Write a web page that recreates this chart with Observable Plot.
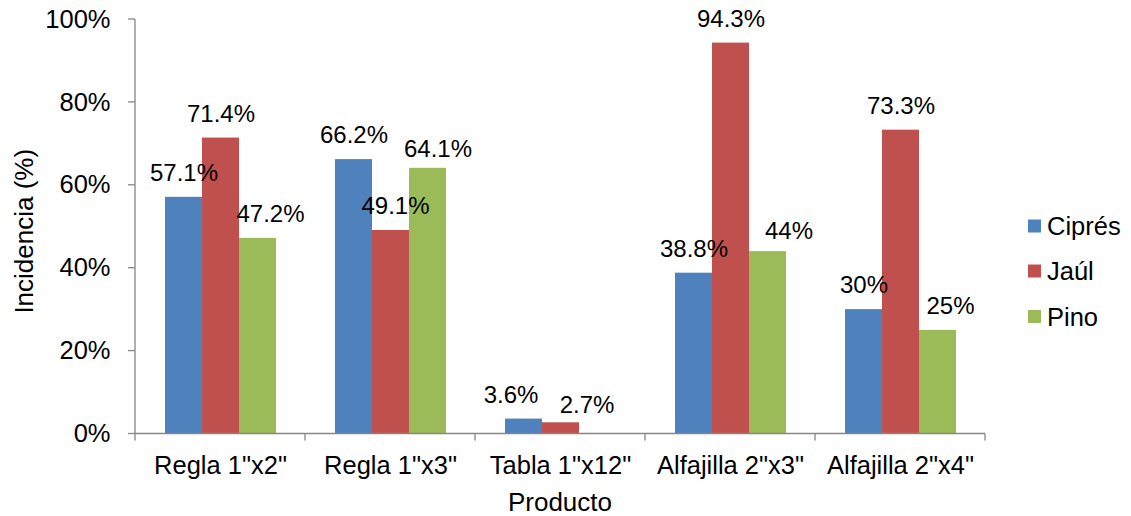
<!DOCTYPE html>
<html>
<head>
<meta charset="utf-8">
<script src="https://cdn.jsdelivr.net/npm/d3@7"></script>
<script src="https://cdn.jsdelivr.net/npm/@observablehq/plot@0.6"></script>
<style>
  html, body { margin: 0; padding: 0; background: #fff; }
  #chart { width: 1131px; height: 516px; }
</style>
</head>
<body>
<div id="chart"></div>
<script>
// ---- data ----
const categories = ['Regla 1"x2"', 'Regla 1"x3"', 'Tabla 1"x12"', 'Alfajilla 2"x3"', 'Alfajilla 2"x4"'];
const series = ["Ciprés", "Jaúl", "Pino"];
const cipres = [0.571, 0.662, 0.036, 0.388, 0.30];
const jaul   = [0.714, 0.491, 0.027, 0.943, 0.733];
const pino   = [0.472, 0.641, null, 0.44, 0.25];
const yTicks = [0, 0.2, 0.4, 0.6, 0.8, 1.0];
const colors = ["#4F81BD", "#C0504D", "#9BBB59"];

const seriesValues = [cipres, jaul, pino];
const rows = [];
categories.forEach((c, i) => {
  series.forEach((s, k) => {
    const v = seriesValues[k][i];
    if (v != null) rows.push({cat: c, series: s, value: v});
  });
});

// label placement nudges (pixels), as in the original chart
const nudges = {
  'Regla 1"x2"|Pino': [12.5, 0],
  'Regla 1"x3"|Jaúl': [4.5, 0],
  'Regla 1"x3"|Pino': [10, 5],
  'Tabla 1"x12"|Ciprés': [-13, 0],
  'Tabla 1"x12"|Jaúl': [26, 7],
  'Alfajilla 2"x3"|Pino': [21, 4],
  'Alfajilla 2"x4"|Pino': [12.5, 0]
};
const nudgeOf = r => nudges[r.cat + "|" + r.series] || [0, 0];
const fmtPct = v => `${+(v * 100).toFixed(1)}%`;

const FONT = "'Liberation Sans', Arial, Helvetica, sans-serif";

const groups = d3.group(rows, r => nudgeOf(r).join(","));
const labelMarks = [...groups].map(([key, g]) => {
  const [nx, ny] = key.split(",").map(Number);
  return Plot.text(g, {
    fx: "cat", x: "series", y: "value",
    text: d => fmtPct(d.value),
    dx: nx, dy: -24 + ny,
    fontSize: 24, fill: "#000"
  });
});

const W = 1131, H = 516, ML = 135, MR = 146, MT = 19, MB = 82.5;

const plot = Plot.plot({
  width: W, height: H,
  marginLeft: ML, marginRight: MR, marginTop: MT, marginBottom: MB,
  style: {fontFamily: FONT, fontSize: "25.5px", color: "#000", background: "#fff", overflow: "visible"},
  fx: {domain: categories, padding: 0, label: null, tickSize: 0, tickPadding: 22, axis: "bottom"},
  x: {domain: series, paddingInner: 0, paddingOuter: 0.756, axis: null},
  y: {domain: [0, 1], ticks: yTicks, tickFormat: d3.format(".0%"), tickSize: 0, tickPadding: 25, label: null},
  color: {domain: series, range: colors},
  marks: [
    Plot.barY(rows, {fx: "cat", x: "series", y: "value", fill: "series"}),
    ...labelMarks
  ]
});

document.getElementById("chart").appendChild(plot);

// ---- axis lines, boundary ticks, titles and legend ----
const svg = d3.select(plot);
const ys = plot.scale("y");
const y0 = ys.apply(0), y1 = ys.apply(1);
let bounds;
try {
  const fxs = plot.scale("fx");
  bounds = categories.map(c => fxs.apply(c));
  bounds.push(fxs.apply(categories[categories.length - 1]) + fxs.bandwidth);
} catch (e) {
  const step = (W - ML - MR) / categories.length;
  bounds = d3.range(categories.length + 1).map(i => ML + i * step);
}
const x0 = bounds[0], xEnd = bounds[bounds.length - 1];
const axisColor = "#868686";
const g = svg.append("g").attr("stroke", axisColor).attr("stroke-width", 1.3).attr("fill", "none");
g.append("line").attr("x1", x0).attr("x2", x0).attr("y1", y1).attr("y2", y0);
g.append("line").attr("x1", x0).attr("x2", xEnd).attr("y1", y0).attr("y2", y0);
yTicks.forEach(t => {
  const y = ys.apply(t);
  g.append("line").attr("x1", x0 - 7).attr("x2", x0).attr("y1", y).attr("y2", y);
});
bounds.forEach(b => {
  g.append("line").attr("x1", b).attr("x2", b).attr("y1", y0).attr("y2", y0 + 7);
});

svg.append("text")
  .attr("transform", `translate(33,${(y0 + y1) / 2 + 5}) rotate(-90)`)
  .attr("text-anchor", "middle")
  .attr("font-family", FONT).attr("font-size", 26).attr("fill", "#000")
  .text("Incidencia (%)");

svg.append("text")
  .attr("x", (x0 + xEnd) / 2).attr("y", 511)
  .attr("text-anchor", "middle")
  .attr("font-family", FONT).attr("font-size", 26).attr("fill", "#000")
  .text("Producto");

const legend = svg.append("g").attr("text-anchor", "start");
const legendY = [226, 271, 316.5];
series.forEach((s, i) => {
  legend.append("rect")
    .attr("x", 1028).attr("y", legendY[i] - 6.5)
    .attr("width", 13).attr("height", 13)
    .attr("fill", colors[i]);
  legend.append("text")
    .attr("x", 1047).attr("y", legendY[i] + 9)
    .attr("text-anchor", "start")
    .attr("font-family", FONT).attr("font-size", 25.5).attr("fill", "#000")
    .text(s);
});
</script>
</body>
</html>
